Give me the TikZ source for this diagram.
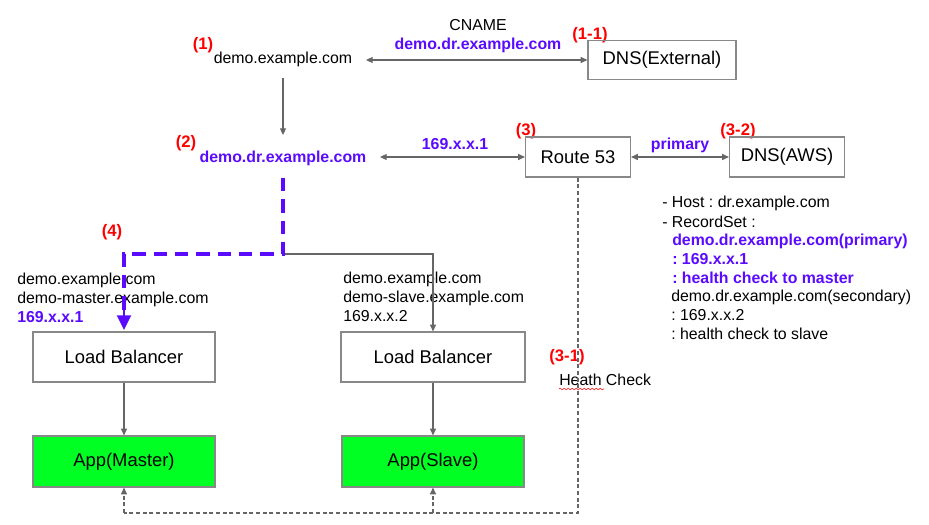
\documentclass[tikz,border=0pt]{standalone}
\usepackage{fontspec}
\setmainfont{Liberation Sans}
\usetikzlibrary{arrows.meta,decorations.pathmorphing}
\definecolor{lgray}{HTML}{666666}
\definecolor{bgray}{HTML}{888888}
\definecolor{dblue}{HTML}{5A0BFF}
\definecolor{appgreen}{HTML}{00FF22}
\frenchspacing
\tikzset{
  lbl/.style={font=\fontsize{11.9}{14.25}\selectfont, inner sep=0pt, align=left},
  blu/.style={lbl, text=dblue, font=\fontsize{11.9}{14.25}\selectfont\bfseries},
  redl/.style={font=\fontsize{12.5}{14}\selectfont\bfseries, text=red, inner sep=0pt},
  boxn/.style={draw=bgray, line width=0.9pt, font=\fontsize{13.8}{16}\selectfont, inner sep=0pt},
  conn/.style={draw=lgray, line width=0.8pt},
  tip/.style={-{Triangle[length=5pt,width=4.5pt]}},
  dtip/.style={{Triangle[length=5pt,width=4.5pt]}-{Triangle[length=5pt,width=4.5pt]}},
}
\begin{document}
\begin{tikzpicture}[x=0.75pt,y=-0.75pt]
\useasboundingbox (0,0) rectangle (929,525);
% top row
\node[redl] (r1) at (203,45) {(1)};
\node[lbl] (demo) at (283,59) {demo.example.com};
\node[lbl] (cname) at (478,25) {CNAME};
\node[blu] (cnameb) at (478,45) {demo.dr.example.com};
\node[redl] (r11) at (590,35) {(1-1)};
\node[boxn, minimum width=148*0.75pt, minimum height=39*0.75pt] (dnsext) at (662,60) {DNS(External)};
\coordinate (a1) at (366,60);
\draw[conn,dtip] (a1) -- (dnsext.west);
% second row
\coordinate (d1) at (283,78);
\coordinate (d2) at (283,135);
\draw[conn,tip] (d1) -- (d2);
\node[redl] (r2) at (186,143) {(2)};
\node[blu] (demodr) at (283,158) {demo.dr.example.com};
\node[blu] (ip1) at (455,144) {169.x.x.1};
\node[redl] (r3) at (526,131) {(3)};
\node[boxn, minimum width=105*0.75pt, minimum height=40*0.75pt] (r53) at (578,157) {Route 53};
\coordinate (a2) at (380,157);
\draw[conn,dtip] (a2) -- (r53.west);
\node[redl] (r32) at (738,131) {(3-2)};
\node[boxn, minimum width=115*0.75pt, minimum height=40*0.75pt] (dnsaws) at (787,157) {DNS(AWS)};
\node[blu] (prim) at (680,145) {primary};
\draw[conn,dtip] (r53.east) -- (dnsaws.west);
% right text block
\node[lbl, anchor=west] (t1) at (662,203) {- Host : dr.example.com};
\node[lbl, anchor=west] (t2) at (662,222) {- RecordSet :};
\node[blu, anchor=north west] (t3) at (672,234) {demo.dr.example.com(primary)\\: 169.x.x.1\\: health check to master};
\node[lbl, anchor=north west] (t4) at (671,290) {demo.dr.example.com(secondary)\\: 169.x.x.2\\: health check to slave};
% load balancers
\node[boxn, minimum width=182*0.75pt, minimum height=50*0.75pt] (lb1) at (124,357) {Load Balancer};
\node[boxn, minimum width=184*0.75pt, minimum height=50*0.75pt] (lb2) at (433,357) {Load Balancer};
\node[lbl, anchor=north west] (m1) at (17,273) {demo.example.com\\demo-master.example.com};
\node[blu, anchor=north west] (m2) at (17,311) {169.x.x.1};
\node[lbl, anchor=north west] (s1) at (343,272) {demo.example.com\\demo-slave.example.com\\169.x.x.2};
\node[redl] (r4) at (112,232) {(4)};
% branch lines
\coordinate (b0) at (283,178);
\coordinate (b1) at (283,254);
\coordinate (b2) at (124,254);
\coordinate (b3) at (433,254);
\draw[conn,tip] (b1) -- (b3) -- (lb2.north);
\draw[dblue, line width=2.4pt, dash pattern=on 10pt off 6pt] (b0) -- (b1) -- (b2) -- ([yshift=12pt]lb1.north);
\draw[dblue, line width=1.6pt, -{Triangle[length=11pt,width=10.5pt]}] ([yshift=16pt]lb1.north) -- ([yshift=1pt]lb1.north);
% apps
\node[boxn, fill=appgreen, minimum width=182*0.75pt, minimum height=51*0.75pt] (app1) at (124,461.5) {App(Master)};
\node[boxn, fill=appgreen, minimum width=182*0.75pt, minimum height=51*0.75pt] (app2) at (433,461.5) {App(Slave)};
\draw[conn,tip] (lb1.south) -- (app1.north);
\draw[conn,tip] (lb2.south) -- (app2.north);
% health check
\node[redl] (r31) at (567,357) {(3-1)};
\node[lbl, anchor=west] (hc) at (559,380) {Heath Check};
\coordinate (hcl) at (559,389);
\coordinate (hcr) at (604,389);
\draw[red, line width=0.4pt, decorate, decoration={snake, amplitude=0.6pt, segment length=3pt}] (hcl) -- (hcr);
\coordinate (h1) at (578,513);
\coordinate (h2) at (124,513);
\coordinate (h3) at (433,513);
\draw[conn, dash pattern=on 3pt off 2pt] (r53.south) -- (h1) -- (h2);
\draw[conn, dash pattern=on 3pt off 2pt, tip] (h2) -- (app1.south);
\draw[conn, dash pattern=on 3pt off 2pt, tip] (h3) -- (app2.south);
\end{tikzpicture}
\end{document}
